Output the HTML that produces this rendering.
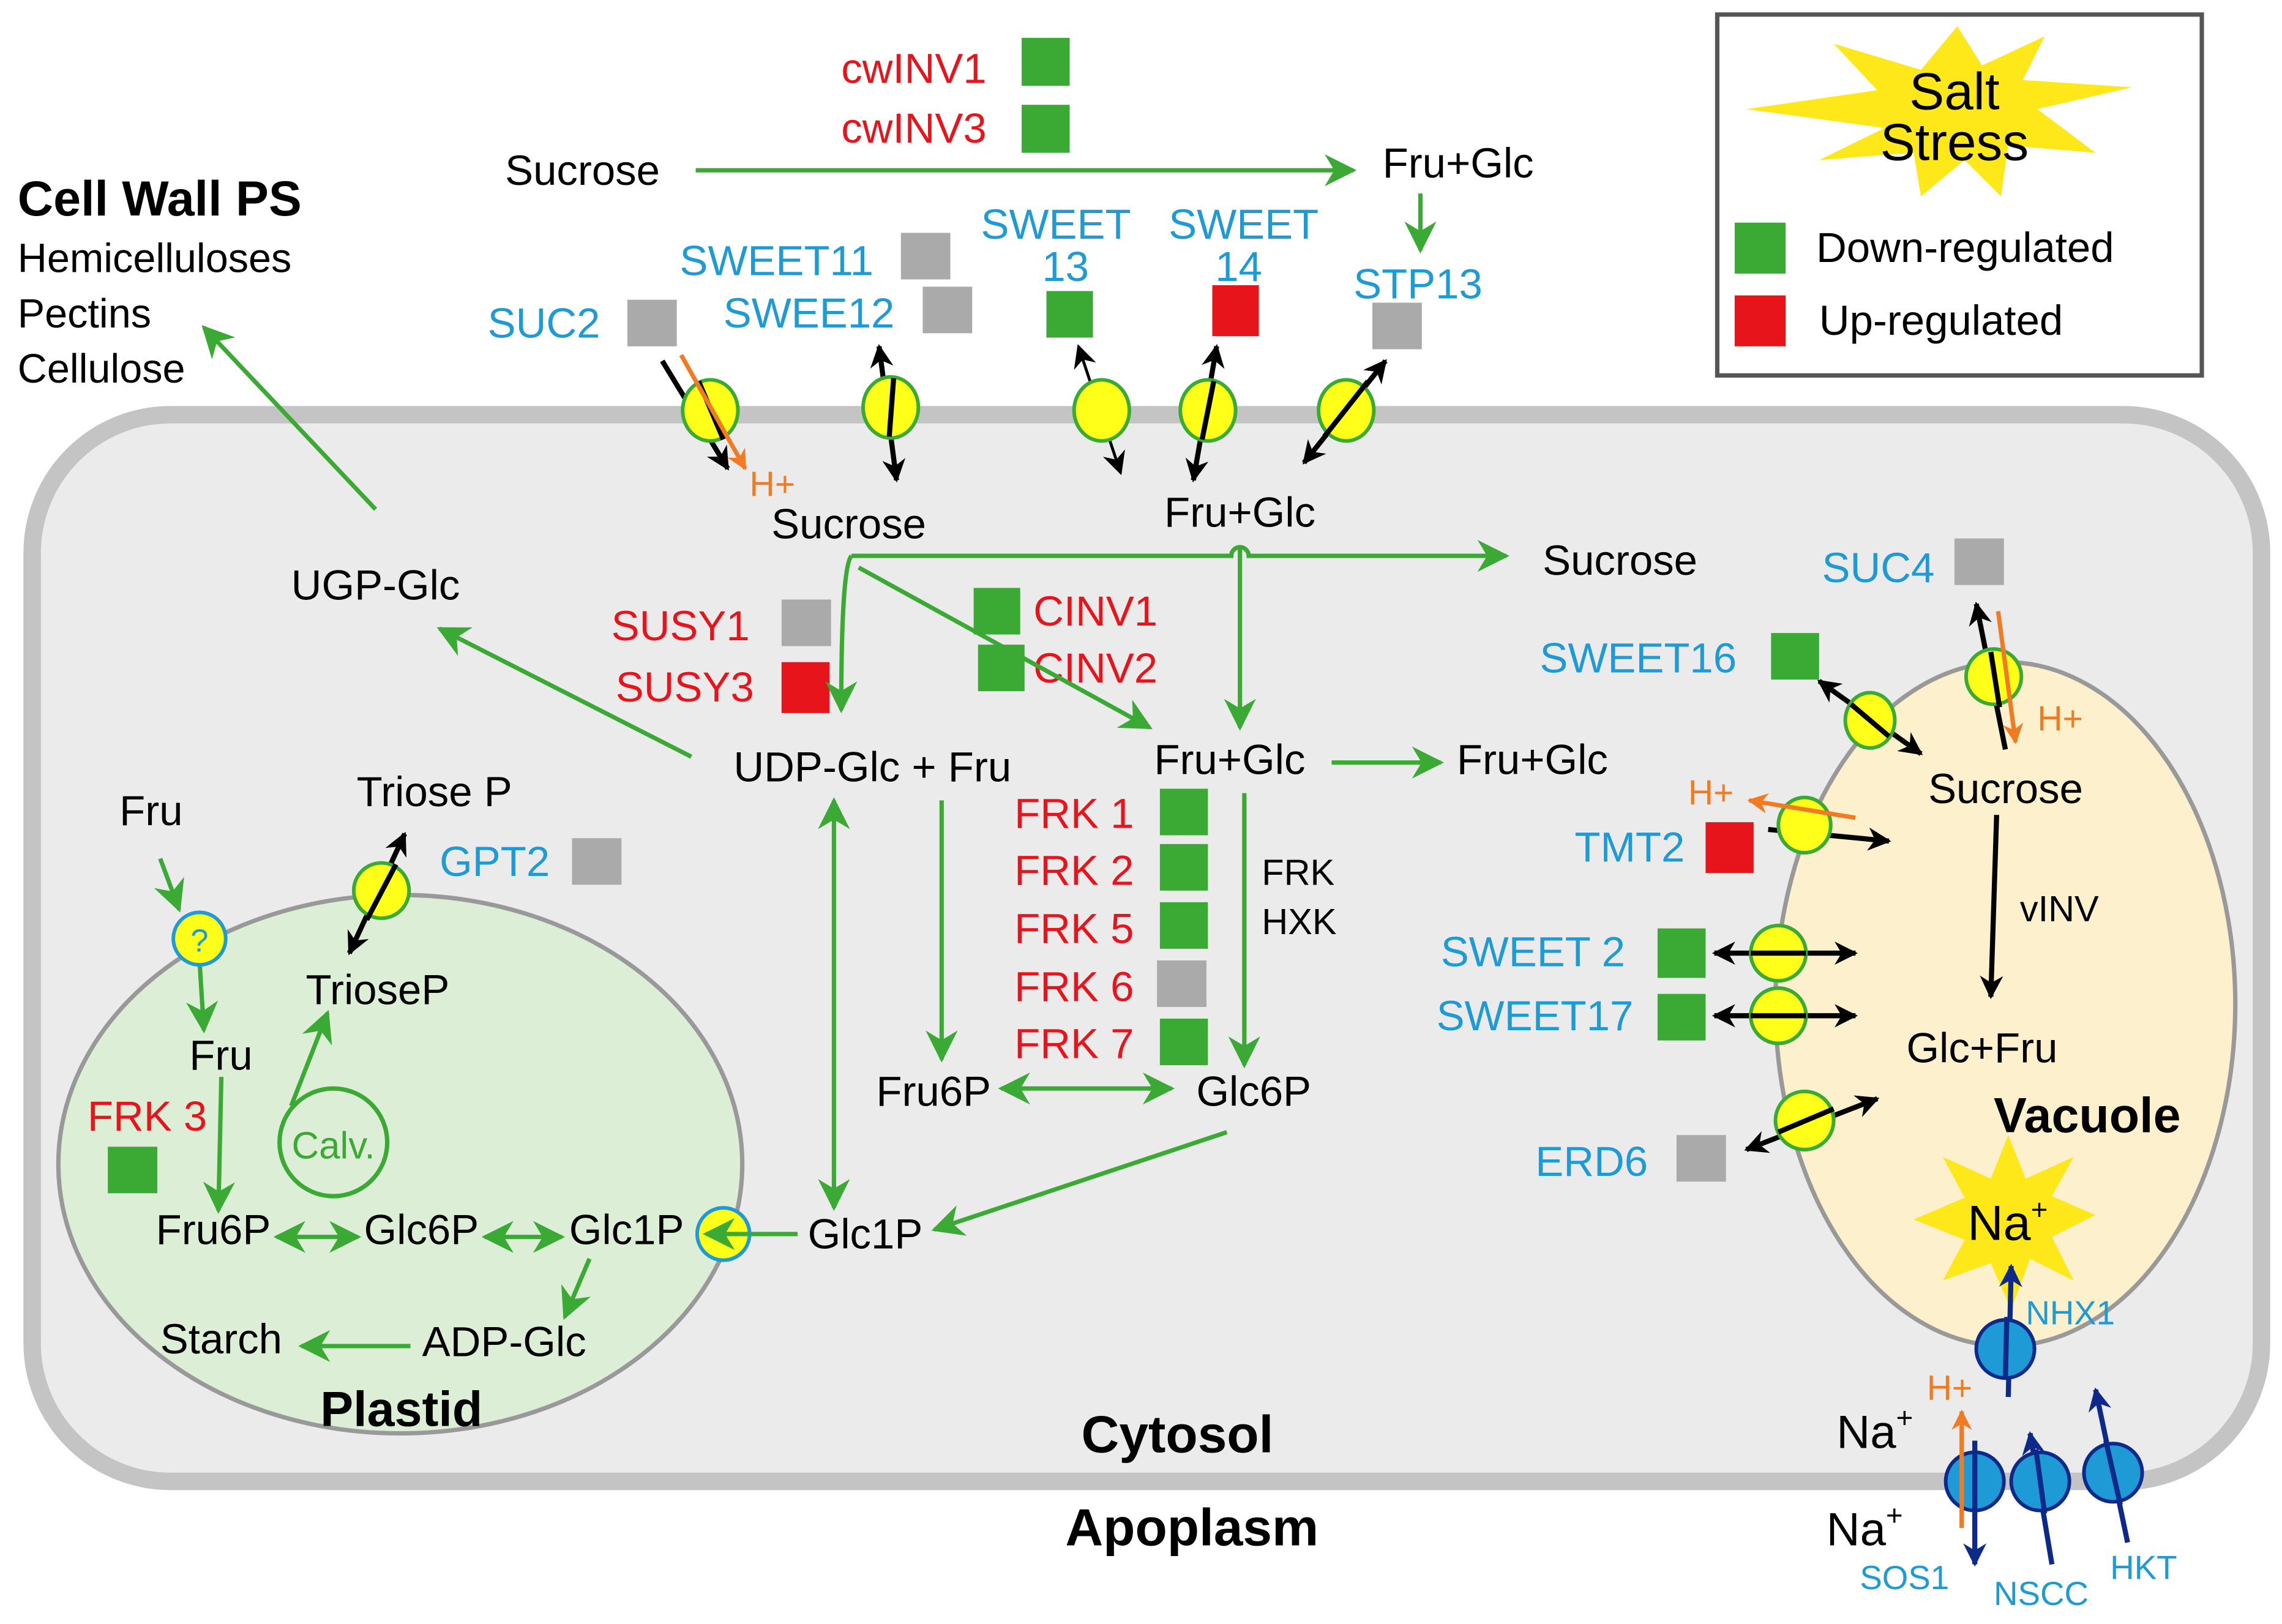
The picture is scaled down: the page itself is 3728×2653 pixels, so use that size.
<!DOCTYPE html>
<html><head><meta charset="utf-8"><style>html,body{margin:0;padding:0;background:#fff}svg{display:block}text{font-family:"Liberation Sans",Arial,sans-serif}</style></head><body>
<svg width="3728" height="2653" viewBox="0 0 1568 1116" xmlns="http://www.w3.org/2000/svg">
<defs>
<marker id="G" viewBox="0 0 10 10" refX="9" refY="5" markerWidth="26" markerHeight="22" orient="auto-start-reverse" markerUnits="userSpaceOnUse"><path d="M0,0 L10,5 L0,10 L3,5z" fill="#3aaa35"/></marker>
<marker id="k" viewBox="0 0 10 10" refX="9" refY="5" markerWidth="16" markerHeight="16" orient="auto-start-reverse" markerUnits="userSpaceOnUse"><path d="M0,0 L10,5 L0,10 L3,5z" fill="#000"/></marker>
<marker id="o" viewBox="0 0 10 10" refX="9" refY="5" markerWidth="14" markerHeight="14" orient="auto-start-reverse" markerUnits="userSpaceOnUse"><path d="M0,0 L10,5 L0,10 L3,5z" fill="#f07b22"/></marker>
<marker id="b" viewBox="0 0 10 10" refX="9" refY="5" markerWidth="16" markerHeight="16" orient="auto-start-reverse" markerUnits="userSpaceOnUse"><path d="M0,0 L10,5 L0,10 L3,5z" fill="#0d2a8a"/></marker>
</defs>
<rect x="22" y="285" width="1532" height="733" rx="95" fill="#ebebeb" stroke="#c4c4c4" stroke-width="12"/>
<ellipse cx="275" cy="800" rx="235" ry="185" fill="#dcefd6" stroke="#999" stroke-width="3"/>
<ellipse cx="1378" cy="690" rx="158" ry="235" fill="#fdf0cc" stroke="#999" stroke-width="3"/>
<rect x="1180" y="10" width="333" height="248" fill="#fff" stroke="#555" stroke-width="3"/>
<polygon fill="#ffe81a" points="1345,18 1362,45 1405,25 1390,55 1465,60 1400,75 1440,105 1380,100 1375,135 1350,110 1320,135 1315,105 1250,110 1295,88 1200,75 1290,62 1260,30 1320,48" />
<text x="1343" y="75" font-size="36" text-anchor="middle">Salt</text>
<text x="1343" y="110" font-size="36" text-anchor="middle">Stress</text>
<rect x="1192" y="153" width="35" height="35" fill="#3aaa35"/>
<rect x="1192" y="203" width="35" height="35" fill="#e8141b"/>
<text x="1248" y="180" font-size="29">Down-regulated</text>
<text x="1250" y="230" font-size="29">Up-regulated</text>
<text x="12" y="148" font-size="34" font-weight="bold">Cell Wall PS</text>
<text x="12" y="187" font-size="28">Hemicelluloses</text>
<text x="12" y="225" font-size="28">Pectins</text>
<text x="12" y="263" font-size="28">Cellulose</text>
<text x="347" y="127" font-size="29">Sucrose</text>
<line x1="478" y1="117" x2="930" y2="117" stroke="#3aaa35" stroke-width="3" marker-end="url(#G)"/>
<text x="578" y="57" font-size="29" fill="#e8141b">cwINV1</text>
<text x="578" y="98" font-size="29" fill="#e8141b">cwINV3</text>
<rect x="702" y="26" width="33" height="33" fill="#3aaa35"/>
<rect x="702" y="72" width="33" height="33" fill="#3aaa35"/>
<text x="950" y="122" font-size="29">Fru+Glc</text>
<line x1="976" y1="133" x2="976" y2="172" stroke="#3aaa35" stroke-width="3" marker-end="url(#G)"/>
<g font-size="29" fill="#1e9ad6">
<text x="335" y="232">SUC2</text><text x="467" y="189">SWEET11</text><text x="497" y="225">SWEE12</text>
<text x="674" y="164">SWEET</text><text x="716" y="193">13</text><text x="803" y="164">SWEET</text><text x="835" y="193">14</text>
<text x="930" y="205">STP13</text><text x="302" y="602">GPT2</text>
<text x="1252" y="400">SUC4</text><text x="1058" y="462">SWEET16</text><text x="1082" y="592">TMT2</text>
<text x="990" y="664">SWEET 2</text><text x="987" y="708">SWEET17</text><text x="1055" y="808">ERD6</text>
</g>
<g fill="#aaaaaa"><rect x="431" y="206" width="34" height="32"/><rect x="619" y="160" width="34" height="32"/><rect x="634" y="197" width="34" height="32"/><rect x="943" y="208" width="34" height="32"/><rect x="393" y="576" width="34" height="32"/><rect x="1343" y="370" width="34" height="32"/><rect x="537" y="412" width="34" height="32"/><rect x="795" y="660" width="34" height="32"/><rect x="1152" y="780" width="34" height="32"/></g>
<g fill="#3aaa35"><rect x="719" y="200" width="32" height="32"/><rect x="74" y="788" width="34" height="32"/><rect x="669" y="404" width="32" height="32"/><rect x="672" y="443" width="32" height="32"/><rect x="797" y="542" width="33" height="32"/><rect x="797" y="580" width="33" height="32"/><rect x="797" y="620" width="33" height="32"/><rect x="797" y="700" width="33" height="32"/><rect x="1217" y="435" width="33" height="32"/><rect x="1139" y="638" width="33" height="34"/><rect x="1139" y="683" width="33" height="32"/></g>
<g fill="#e8141b"><rect x="833" y="196" width="32" height="35"/><rect x="537" y="455" width="33" height="35"/><rect x="1172" y="565" width="33" height="35"/></g>
<g stroke="#000" stroke-width="3.5" fill="none">
<line x1="455" y1="248" x2="500" y2="322" marker-end="url(#k)"/>
<line x1="604" y1="238" x2="616" y2="330" marker-start="url(#k)" marker-end="url(#k)"/>
<line x1="741" y1="238" x2="770" y2="325" marker-start="url(#k)" marker-end="url(#k)" stroke-width="2"/>
<line x1="836" y1="238" x2="820" y2="330" marker-start="url(#k)" marker-end="url(#k)"/>
<line x1="952" y1="248" x2="896" y2="318" marker-start="url(#k)" marker-end="url(#k)"/>
<line x1="278" y1="573" x2="240" y2="655" marker-start="url(#k)" marker-end="url(#k)"/>
<line x1="1250" y1="468" x2="1320" y2="518" marker-start="url(#k)" marker-end="url(#k)"/>
<line x1="1378" y1="515" x2="1358" y2="415" marker-end="url(#k)"/>
<line x1="1372" y1="560" x2="1368" y2="685" marker-end="url(#k)"/>
<line x1="1215" y1="570" x2="1298" y2="578" marker-end="url(#k)"/>
<line x1="1178" y1="655" x2="1275" y2="655" marker-start="url(#k)" marker-end="url(#k)"/>
<line x1="1178" y1="698" x2="1275" y2="698" marker-start="url(#k)" marker-end="url(#k)"/>
<line x1="1200" y1="790" x2="1290" y2="755" marker-start="url(#k)" marker-end="url(#k)"/>
</g>
<g fill="#ffff1a" stroke="#3aaa35" stroke-width="2.5">
<ellipse cx="488" cy="282" rx="19" ry="21"/><ellipse cx="612" cy="280" rx="19" ry="21"/><ellipse cx="757" cy="282" rx="19" ry="21"/><ellipse cx="830" cy="282" rx="19" ry="21"/><ellipse cx="925" cy="282" rx="19" ry="21"/>
<ellipse cx="262" cy="612" rx="19" ry="19"/><ellipse cx="1285" cy="495" rx="17" ry="19"/><ellipse cx="1370" cy="465" rx="19" ry="19"/><ellipse cx="1240" cy="567" rx="18" ry="19"/><ellipse cx="1222" cy="655" rx="19" ry="19"/><ellipse cx="1222" cy="698" rx="19" ry="19"/><ellipse cx="1240" cy="770" rx="20" ry="20"/>
</g>
<g stroke="#000" stroke-width="3.5"><line x1="480" y1="262" x2="497" y2="302"/><line x1="614" y1="260" x2="611" y2="300"/><line x1="834" y1="262" x2="826" y2="302"/><line x1="940" y1="262" x2="910" y2="300"/><line x1="272" y1="594" x2="252" y2="632"/><line x1="1272" y1="484" x2="1298" y2="506"/><line x1="1368" y1="448" x2="1374" y2="486"/><line x1="1203" y1="655" x2="1241" y2="655"/><line x1="1203" y1="698" x2="1241" y2="698"/><line x1="1222" y1="778" x2="1260" y2="762"/></g>
<g stroke="#f07b22" stroke-width="3"><line x1="468" y1="244" x2="512" y2="322" marker-end="url(#o)"/><line x1="1373" y1="420" x2="1385" y2="510" marker-end="url(#o)"/><line x1="1275" y1="562" x2="1202" y2="550" marker-end="url(#o)"/><line x1="1348" y1="1050" x2="1348" y2="970" marker-end="url(#o)"/></g>
<g fill="#f07b22" font-size="24"><text x="515" y="341">H+</text><text x="1400" y="502">H+</text><text x="1160" y="553">H+</text><text x="1324" y="962">H+</text></g>
<g font-size="29">
<text x="530" y="370">Sucrose</text><text x="800" y="362">Fru+Glc</text><text x="1060" y="395">Sucrose</text>
<text x="200" y="412">UGP-Glc</text><text x="504" y="537">UDP-Glc + Fru</text><text x="793" y="532">Fru+Glc</text><text x="1001" y="532">Fru+Glc</text>
<text x="245" y="554">Triose P</text><text x="82" y="567">Fru</text><text x="210" y="690">TrioseP</text><text x="130" y="735">Fru</text>
<text x="602" y="760">Fru6P</text><text x="822" y="760">Glc6P</text><text x="555" y="858">Glc1P</text>
<text x="107" y="855">Fru6P</text><text x="250" y="855">Glc6P</text><text x="391" y="855">Glc1P</text>
<text x="110" y="930">Starch</text><text x="290" y="932">ADP-Glc</text>
<text x="1325" y="552">Sucrose</text><text x="1310" y="730">Glc+Fru</text>
</g>
<g font-size="25"><text x="867" y="608">FRK</text><text x="867" y="642">HXK</text><text x="1388" y="633">vINV</text></g>
<g font-size="29" fill="#e8141b"><text x="420" y="440">SUSY1</text><text x="423" y="482">SUSY3</text><text x="710" y="430">CINV1</text><text x="710" y="469">CINV2</text>
<text x="697" y="569">FRK 1</text><text x="697" y="608">FRK 2</text><text x="697" y="648">FRK 5</text><text x="697" y="688">FRK 6</text><text x="697" y="727">FRK 7</text><text x="60" y="777">FRK 3</text></g>
<text x="220" y="980" font-size="34" font-weight="bold">Plastid</text>
<text x="743" y="998" font-size="36" font-weight="bold">Cytosol</text>
<text x="732" y="1062" font-size="36" font-weight="bold">Apoplasm</text>
<text x="1370" y="778" font-size="34" font-weight="bold">Vacuole</text>
<g stroke="#3aaa35" stroke-width="3" fill="none">
<line x1="258" y1="350" x2="140" y2="225" marker-end="url(#G)"/>
<line x1="475" y1="520" x2="302" y2="432" marker-end="url(#G)"/>
<path d="M585 382 L846 382 A6 6 0 0 1 858 382 L1035 382" marker-end="url(#G)"/>
<path d="M585 382 Q578 390 578 488" marker-end="url(#G)"/>
<line x1="590" y1="390" x2="790" y2="500" marker-end="url(#G)"/>
<line x1="852" y1="375" x2="852" y2="500" marker-end="url(#G)"/>
<line x1="915" y1="524" x2="990" y2="524" marker-end="url(#G)"/>
<line x1="573" y1="550" x2="573" y2="830" marker-start="url(#G)" marker-end="url(#G)"/>
<line x1="647" y1="550" x2="647" y2="728" marker-end="url(#G)"/>
<line x1="855" y1="545" x2="855" y2="732" marker-end="url(#G)"/>
<line x1="688" y1="748" x2="805" y2="748" marker-start="url(#G)" marker-end="url(#G)"/>
<line x1="843" y1="778" x2="642" y2="845" marker-end="url(#G)"/>
<line x1="548" y1="848" x2="480" y2="848"/>
<line x1="110" y1="590" x2="123" y2="625" marker-end="url(#G)"/>
<line x1="137" y1="660" x2="140" y2="708" marker-end="url(#G)"/>
<line x1="152" y1="740" x2="150" y2="832" marker-end="url(#G)"/>
<line x1="200" y1="760" x2="225" y2="696" marker-end="url(#G)"/>
<line x1="190" y1="850" x2="246" y2="850" marker-start="url(#G)" marker-end="url(#G)"/>
<line x1="333" y1="850" x2="386" y2="850" marker-start="url(#G)" marker-end="url(#G)"/>
<line x1="405" y1="865" x2="388" y2="905" marker-end="url(#G)"/>
<line x1="282" y1="925" x2="207" y2="925" marker-end="url(#G)"/>
</g>
<circle cx="229" cy="785" r="37" fill="none" stroke="#3aaa35" stroke-width="3"/>
<text x="229" y="796" font-size="26" fill="#3aaa35" text-anchor="middle">Calv.</text>
<circle cx="137" cy="645" r="18" fill="#ffff1a" stroke="#1e9ad6" stroke-width="2.5"/>
<text x="137" y="654" font-size="22" fill="#1e9ad6" text-anchor="middle">?</text>
<circle cx="497" cy="848" r="18" fill="#ffff1a" stroke="#1e9ad6" stroke-width="2.5"/>
<line x1="515" y1="848" x2="485" y2="848" stroke="#3aaa35" stroke-width="3" marker-end="url(#G)"/>
<polygon fill="#ffe81a" points="1380,780 1392,810 1425,795 1410,822 1440,835 1410,850 1425,880 1395,865 1382,900 1368,868 1335,880 1350,852 1315,838 1350,823 1335,795 1368,810"/>
<text x="1352" y="852" font-size="34">Na<tspan font-size="20" dy="-14">+</tspan></text>
<text x="1262" y="995" font-size="32">Na<tspan font-size="20" dy="-14">+</tspan></text>
<text x="1255" y="1062" font-size="32">Na<tspan font-size="20" dy="-14">+</tspan></text>
<g stroke="#0d2a8a" stroke-width="3.5">
<line x1="1380" y1="960" x2="1382" y2="870" marker-end="url(#b)"/>
<line x1="1357" y1="990" x2="1357" y2="1075" marker-end="url(#b)"/>
<line x1="1410" y1="1075" x2="1395" y2="985" marker-end="url(#b)"/>
<line x1="1462" y1="1060" x2="1440" y2="955" marker-end="url(#b)"/>
</g>
<g fill="#1e9ad6" stroke="#0d2a8a" stroke-width="2.5"><circle cx="1378" cy="927" r="20"/><circle cx="1357" cy="1018" r="20"/><circle cx="1402" cy="1018" r="20"/><circle cx="1452" cy="1012" r="20"/></g>
<g stroke="#0d2a8a" stroke-width="3.5"><line x1="1379" y1="905" x2="1378" y2="948"/><line x1="1357" y1="996" x2="1357" y2="1040"/><line x1="1399" y1="996" x2="1405" y2="1040"/><line x1="1447" y1="990" x2="1457" y2="1034"/></g>
<line x1="1348" y1="1050" x2="1348" y2="970" stroke="#f07b22" stroke-width="3"/>
<g fill="#1e9ad6" font-size="23"><text x="1392" y="910">NHX1</text><text x="1278" y="1092">SOS1</text><text x="1370" y="1103">NSCC</text><text x="1450" y="1085">HKT</text></g>
</svg>
</body></html>
